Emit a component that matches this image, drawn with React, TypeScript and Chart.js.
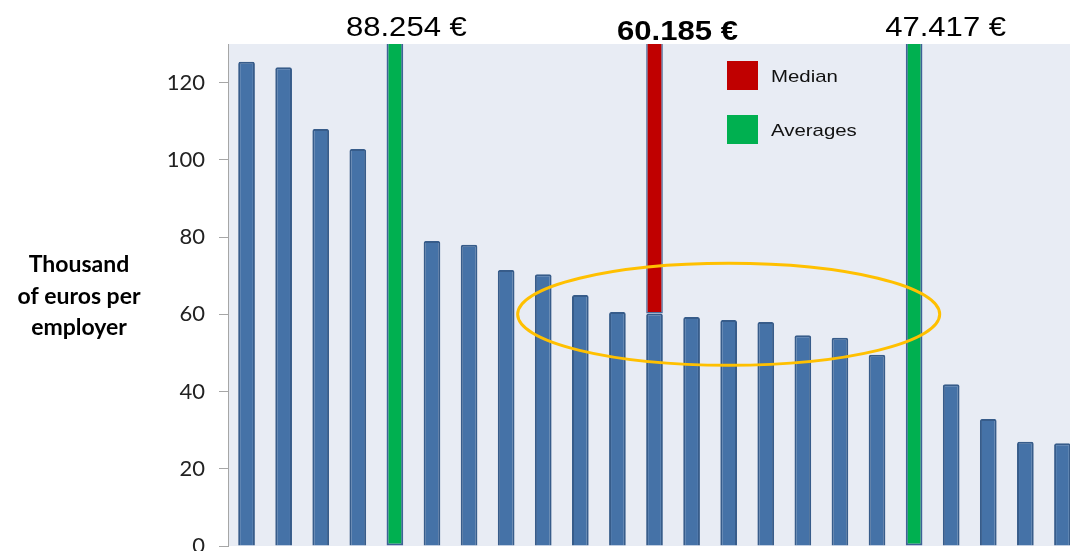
import React, { useEffect, useRef } from "react";
import { Chart, registerables } from "chart.js";

Chart.register(...registerables);

// ---- data ----
const categories = [
  "1", "2", "3", "4", "5", "6", "7", "8", "9", "10", "11", "12",
  "13", "14", "15", "16", "17", "18", "19", "20", "21", "22", "23",
];
const employerValues: (number | null)[] = [
  125.4, 124.0, 108.0, 102.8, null, 79.0, 78.0, 71.5, 70.4, 65.0, 60.6, 60.2,
  59.3, 58.5, 58.0, 54.6, 53.9, 49.5, null, 41.9, 32.9, 27.0, 26.6,
];
const medianIndex = 11;
const medianValue = 60.185;
const averageIndices = [4, 18];
const topLabels = ["88.254 €", "60.185 €", "47.417 €"];
const topLabelIndices = [4, 11, 18];
const topLabelBold = [false, true, false];
const yTickValues = [0, 20, 40, 60, 80, 100, 120];
const yMax = 130;
const yTitleLines = ["Thousand", "of euros per", "employer"];
const legendLabels = ["Median", "Averages"];
const highlightCenterIndex = 13;
const highlightCenterValue = 60;
const highlightHalfWidthCats = 5.69;
const highlightHalfHeightValue = 13.2;

const BLUE = "#4572A7";
const BLUE_BORDER = "#375C8A";
const RED = "#C00000";
const GREEN = "#00B050";
const PLOT_BG = "#E8ECF4";

const medianData = categories.map((_, i) =>
  i === medianIndex ? [medianValue, yMax] : null
);
const averageData = categories.map((_, i) =>
  averageIndices.includes(i) ? [0, yMax] : null
);

const decorPlugin = {
  id: "decor",
  beforeDraw(chart: any) {
    const { ctx, chartArea } = chart;
    ctx.save();
    ctx.fillStyle = PLOT_BG;
    ctx.fillRect(
      chartArea.left,
      chartArea.top,
      chartArea.right - chartArea.left,
      chartArea.bottom - chartArea.top
    );
    ctx.restore();
  },
  afterDatasetsDraw(chart: any) {
    const { ctx, scales } = chart;
    const x = scales.x;
    const y = scales.y;
    const slot = x.getPixelForValue(1) - x.getPixelForValue(0);
    const cx = x.getPixelForValue(highlightCenterIndex);
    const cy = y.getPixelForValue(highlightCenterValue);
    const rx = highlightHalfWidthCats * slot;
    const ry = Math.abs(
      y.getPixelForValue(highlightCenterValue + highlightHalfHeightValue) - cy
    );
    ctx.save();
    ctx.beginPath();
    ctx.ellipse(cx, cy, rx, ry, 0, 0, Math.PI * 2);
    ctx.strokeStyle = "#FFC000";
    ctx.lineWidth = 3;
    ctx.stroke();
    ctx.restore();
  },
  afterDraw(chart: any) {
    const { ctx, scales } = chart;
    const x = scales.x;

    // top value labels
    const offsets = [11.5, 23, 31.5];
    const baselines = [36, 40, 36];
    topLabels.forEach((txt, k) => {
      const px = x.getPixelForValue(topLabelIndices[k]) + offsets[k];
      ctx.save();
      ctx.translate(px, baselines[k]);
      ctx.scale(1.15, 1);
      ctx.font = `${topLabelBold[k] ? "bold " : ""}27px "Liberation Sans", Arial, sans-serif`;
      ctx.fillStyle = "#000";
      ctx.textAlign = "center";
      ctx.textBaseline = "alphabetic";
      ctx.fillText(txt, 0, 0);
      ctx.restore();
    });

    // y title (horizontal, 3 lines)
    ctx.save();
    ctx.font = 'bold 23px Lato, "Open Sans", sans-serif';
    ctx.fillStyle = "#000";
    ctx.textAlign = "center";
    ctx.textBaseline = "middle";
    yTitleLines.forEach((line, i) => {
      ctx.fillText(line, 79, 265 + i * 31.5);
    });
    ctx.restore();

    // legend
    const legendColors = [RED, GREEN];
    const lx = chart.chartArea.left + 499;
    legendLabels.forEach((lab, i) => {
      const top = 61 + i * 54;
      ctx.save();
      ctx.fillStyle = legendColors[i];
      ctx.fillRect(lx, top, 31, 29);
      ctx.translate(lx + 44, top + 21);
      ctx.scale(1.2, 1);
      ctx.font = '17px "Liberation Sans", Arial, sans-serif';
      ctx.fillStyle = "#111";
      ctx.textAlign = "left";
      ctx.textBaseline = "alphabetic";
      ctx.fillText(lab, 0, 0);
      ctx.restore();
    });
  },
};

export default function App() {
  const ref = useRef<HTMLCanvasElement | null>(null);

  useEffect(() => {
    if (!ref.current) return;
    const chart = new Chart(ref.current, {
      type: "bar",
      data: {
        labels: categories,
        datasets: [
          {
            label: "Median",
            data: medianData as any,
            backgroundColor: RED,
            borderColor: "#4F6E9C",
            borderWidth: 1.5,
            borderSkipped: "top",
            grouped: false,
            order: 1,
            barPercentage: 0.45,
            categoryPercentage: 1,
          },
          {
            label: "Averages",
            data: averageData as any,
            backgroundColor: GREEN,
            borderColor: "#3F6196",
            borderWidth: 2,
            borderSkipped: "top",
            grouped: false,
            order: 2,
            barPercentage: 0.45,
            categoryPercentage: 1,
          },
          {
            label: "Employers",
            data: employerValues,
            backgroundColor: BLUE,
            borderColor: BLUE_BORDER,
            borderWidth: 2,
            borderRadius: 2,
            grouped: false,
            order: 3,
            barPercentage: 0.45,
            categoryPercentage: 1,
          },
        ],
      },
      options: {
        animation: false,
        responsive: false,
        layout: { padding: { top: 44, bottom: 5, left: 0, right: 0 } },
        plugins: {
          legend: { display: false },
          tooltip: { enabled: false },
        },
        scales: {
          x: { display: false },
          y: {
            min: 0,
            max: yMax,
            ticks: {
              stepSize: 20,
              font: { family: "Lato", size: 22 },
              color: "#222",
              padding: 14,
            },
            grid: {
              drawOnChartArea: false,
              tickLength: 9,
              color: "#A6A6A6",
            },
            border: { color: "#A6A6A6", width: 1 },
            afterBuildTicks: (s: any) => {
              s.ticks = yTickValues.map((v) => ({ value: v }));
            },
            afterFit: (s: any) => {
              s.width = 228;
              s.paddingTop = 0;
              s.paddingBottom = 0;
            },
          },
        },
      },
      plugins: [decorPlugin],
    });
    return () => chart.destroy();
  }, []);

  return (
    <div
      style={{
        position: "fixed",
        left: 0,
        top: 0,
        width: 1070,
        height: 551,
        overflow: "hidden",
        background: "#fff",
      }}
    >
      <canvas ref={ref} width={1081} height={551} style={{ display: "block" }} />
    </div>
  );
}
